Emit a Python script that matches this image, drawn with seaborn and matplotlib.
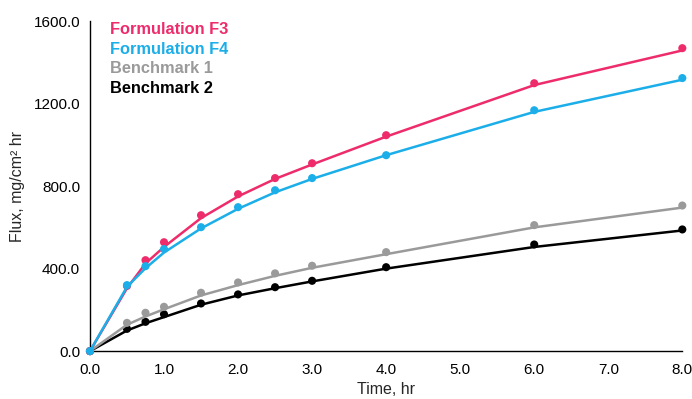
import numpy as np
import pandas as pd
import matplotlib
matplotlib.use("Agg")
import matplotlib.pyplot as plt
import seaborn as sns

time_hr = [0.0, 0.5, 0.75, 1.0, 1.5, 2.0, 2.5, 3.0, 4.0, 6.0, 8.0]
series_names = ["Formulation F3", "Formulation F4", "Benchmark 1", "Benchmark 2"]

# measured points
f3_points = [0, 316, 441, 528, 659, 761, 839, 911, 1047, 1299, 1469]
f4_points = [0, 320, 412, 495, 601, 698, 780, 839, 950, 1168, 1324]
b1_points = [0, 137, 186, 215, 283, 333, 377, 414, 480, 611, 706]
b2_points = [0, 108, 142, 179, 231, 275, 310, 341, 407, 517, 590]

# fitted curve values
f3_fit = [0, 305, 425, 505, 645, 750, 835, 905, 1040, 1290, 1458]
f4_fit = [0, 312, 402, 478, 595, 690, 770, 835, 950, 1160, 1316]
b1_fit = [0, 128, 168, 203, 270, 320, 365, 404, 470, 600, 696]
b2_fit = [0, 100, 135, 165, 225, 270, 305, 338, 400, 505, 585]

colors = ["#EE2C6B", "#1BAEE8", "#9A9A9A", "#000000"]
x_ticks = [0, 1, 2, 3, 4, 5, 6, 7, 8]
y_ticks = [0, 400, 800, 1200, 1600]

pts = pd.DataFrame({
    "time": time_hr * 4,
    "flux": f3_points + f4_points + b1_points + b2_points,
    "series": np.repeat(series_names, len(time_hr)),
})
fit = pd.DataFrame({
    "time": time_hr * 4,
    "flux": f3_fit + f4_fit + b1_fit + b2_fit,
    "series": np.repeat(series_names, len(time_hr)),
})

sns.set_style("white")
plt.rcParams["font.family"] = ["Liberation Sans", "DejaVu Sans"]

fig = plt.figure(figsize=(6.92, 3.99), dpi=100)
ax = fig.add_axes([0.130, 0.120, 0.856, 0.827])

palette = dict(zip(series_names, colors))
order = ["Benchmark 2", "Benchmark 1", "Formulation F3", "Formulation F4"]
for k, name in enumerate(order):
    sub_fit = fit[fit.series == name]
    sub_pts = pts[pts.series == name]
    sns.lineplot(data=sub_fit, x="time", y="flux", color=palette[name],
                 lw=1.8, ax=ax, legend=False, clip_on=False, zorder=2 + k)
    sns.scatterplot(data=sub_pts, x="time", y="flux", color=palette[name],
                    s=34, edgecolor="none", ax=ax, legend=False, clip_on=False, zorder=2 + k)

ax.set_xlim(0, 8)
ax.set_ylim(0, 1600)
ax.set_xticks(x_ticks)
ax.set_xticklabels([f"{v:.1f}" for v in x_ticks])
ax.set_yticks(y_ticks)
ax.set_yticklabels([f"{v:.1f}" for v in y_ticks])
ax.tick_params(axis="x", direction="inout", length=9, width=1, labelsize=11, pad=4, colors="black")
ax.tick_params(axis="y", direction="out", length=4, width=1, labelsize=11, pad=3, colors="black")
for s in ["top", "right"]:
    ax.spines[s].set_visible(False)
for s in ["left", "bottom"]:
    ax.spines[s].set_color("black")
    ax.spines[s].set_linewidth(1)

ax.set_xlabel("Time, hr", fontsize=11.5, labelpad=4)
ax.set_ylabel("Flux, mg/cm² hr", fontsize=11.5, labelpad=6)

for i, (name, c) in enumerate(zip(series_names, colors)):
    ax.text(0.034, 0.974 - i * 0.0595, name, transform=ax.transAxes, color=c,
            fontsize=11.8, fontweight="bold", va="center", ha="left")

fig.savefig("out.png", dpi=100)
